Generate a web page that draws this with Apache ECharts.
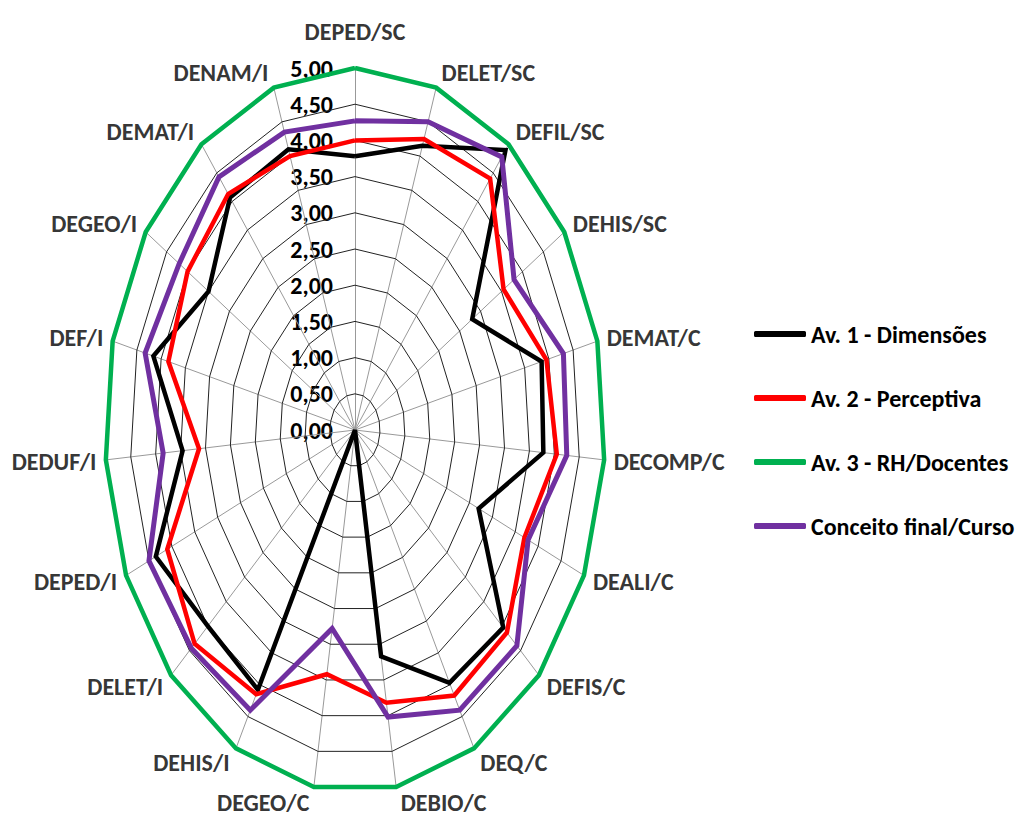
<!DOCTYPE html>
<html>
<head>
<meta charset="utf-8">
<script src="https://cdn.jsdelivr.net/npm/echarts@6/dist/echarts.min.js"></script>
<style>
html,body{margin:0;padding:0;background:#fff;}
#chart{width:1019px;height:818px;}
</style>
</head>
<body>
<div id="chart"></div>
<script>
// ---- data ----
const categories = ['DEPED/SC','DELET/SC','DEFIL/SC','DEHIS/SC','DEMAT/C','DECOMP/C','DEALI/C','DEFIS/C','DEQ/C','DEBIO/C','DEGEO/C','DEHIS/I','DELET/I','DEPED/I','DEDUF/I','DEF/I','DEGEO/I','DEMAT/I','DENAM/I'];
const av1Dimensoes = [3.78, 4.15, 4.90, 2.80, 3.85, 3.78, 2.70, 4.03, 3.97, 3.17, 0.00, 4.08, 4.00, 4.35, 3.46, 4.16, 3.50, 4.07, 4.10];
const av2Perceptiva = [4.00, 4.25, 4.40, 3.55, 3.95, 4.05, 3.70, 4.13, 4.17, 3.82, 3.42, 4.15, 4.36, 4.10, 3.13, 3.85, 4.00, 4.13, 4.00];
const av3RHDocentes = [5.00, 5.00, 5.00, 5.00, 5.00, 5.00, 5.00, 5.00, 5.00, 5.00, 5.00, 5.00, 5.00, 5.00, 5.00, 5.00, 5.00, 5.00, 5.00];
const conceitoFinal = [4.27, 4.50, 4.78, 3.80, 4.30, 4.25, 3.78, 4.40, 4.40, 4.02, 2.78, 4.40, 4.45, 4.50, 3.85, 4.33, 4.20, 4.43, 4.35];
const seriesNames = ['Av. 1 - Dimensões', 'Av. 2 - Perceptiva', 'Av. 3 - RH/Docentes', 'Conceito final/Curso'];
const tickValues = [0, 0.5, 1, 1.5, 2, 2.5, 3, 3.5, 4, 4.5, 5];
const axisMax = 5;

// ---- helpers ----
const N = categories.length;
const FONT = "Carlito, 'Liberation Sans Narrow', 'Arial Narrow', 'DejaVu Sans Condensed', 'Open Sans', sans-serif";
const GRID_W = 500, GRID_H = 724;
function polar(v, i) {
  const a = i * 2 * Math.PI / N;
  return [v * Math.sin(a), v * Math.cos(a)];
}
function closedPolygon(vals) {
  const pts = vals.map((v, i) => polar(v, i));
  pts.push(pts[0]);
  return pts;
}

const series = [];
// rings
tickValues.filter(t => t > 0).forEach(t => {
  series.push({
    type: 'line', silent: true, symbol: 'none', z: 1,
    data: closedPolygon(categories.map(() => t)),
    lineStyle: { color: '#222', width: 1 }
  });
});
// spokes
series.push({
  type: 'lines', coordinateSystem: 'cartesian2d', silent: true, z: 1,
  data: categories.map((c, i) => ({ coords: [[0, 0], polar(axisMax, i)] })),
  lineStyle: { color: '#999', width: 1, opacity: 1 }
});
// data series
const colors = ['#000000', '#ff0000', '#00b050', '#7030a0'];
[av1Dimensoes, av2Perceptiva, av3RHDocentes, conceitoFinal].forEach((vals, k) => {
  series.push({
    name: seriesNames[k], type: 'line', symbol: 'none', z: 3 + k,
    data: closedPolygon(vals),
    lineStyle: { color: colors[k], width: k === 3 ? 5 : 4.5, join: 'miter' },
    itemStyle: { color: colors[k] }
  });
});
// category names
series.push({
  type: 'scatter', silent: true, symbolSize: 1, z: 10,
  itemStyle: { color: 'rgba(0,0,0,0)' },
  data: categories.map((c, i) => {
    const a = i * 2 * Math.PI / N;
    let label;
    if (i === 0) {
      label = { position: 'top', distance: 24 };
    } else {
      label = {
        position: i <= N / 2 ? 'right' : 'left',
        distance: 3 + 6 * Math.abs(Math.sin(a)),
        offset: [0, -16 * Math.cos(a)]
      };
    }
    return { value: polar(axisMax, i), name: c, label: label };
  }),
  label: {
    show: true, formatter: p => p.name,
    fontFamily: FONT, fontWeight: 'bold', fontSize: 24, color: '#000'
  }
});

const option = {
  backgroundColor: '#fff',
  animation: false,
  grid: { left: 105, top: 68, width: GRID_W, height: GRID_H },
  xAxis: { type: 'value', min: -axisMax, max: axisMax, show: false },
  yAxis: {
    type: 'value', min: -axisMax, max: axisMax, interval: 0.5,
    position: 'left', offset: -GRID_W / 2,
    axisLine: { show: false, onZero: false },
    axisTick: { show: false },
    splitLine: { show: false },
    axisLabel: {
      margin: 22, fontFamily: FONT, fontWeight: 'bold', fontSize: 24, color: '#000',
      formatter: v => (v >= 0 && tickValues.indexOf(v) >= 0) ? v.toFixed(2).replace('.', ',') : ''
    }
  },
  legend: {
    orient: 'vertical', left: 749, top: 317,
    data: seriesNames,
    icon: 'roundRect', itemWidth: 52, itemHeight: 6, itemGap: 40,
    textStyle: { fontFamily: FONT, fontWeight: 'bold', fontSize: 24, color: '#000', lineHeight: 24 }
  },
  series: series
};

const chart = echarts.init(document.getElementById('chart'), null, { renderer: 'svg' });
chart.setOption(option);
</script>
</body>
</html>
